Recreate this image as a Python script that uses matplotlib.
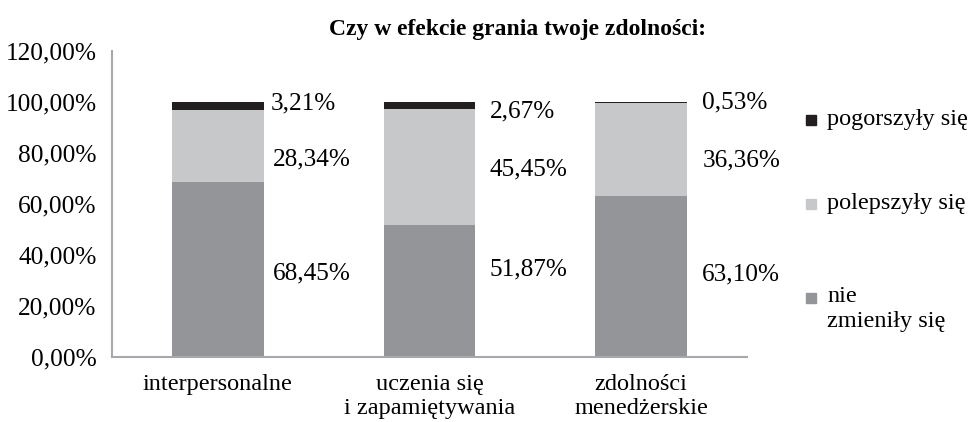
import matplotlib.pyplot as plt
from matplotlib.patches import Rectangle
import numpy as np

plt.rcParams['font.family'] = ['Liberation Serif', 'DejaVu Serif']

categories = ['interpersonalne', 'uczenia się\ni zapamiętywania', 'zdolności\nmenedżerskie']
nie_zmienily = [68.45, 51.87, 63.10]
polepszyly = [28.34, 45.45, 36.36]
pogorszyly = [3.21, 2.67, 0.53]
series_names = ['pogorszyły się', 'polepszyły się', 'nie\nzmieniły się']
yticks = [0, 20, 40, 60, 80, 100, 120]

# label heights (in % units) as placed in the original
lab_y_bottom = [32.9, 34.5, 32.5]
lab_y_mid = [77.3, 73.7, 76.9]
lab_y_top = [99.6, 96.1, 100.0]
lab_dx = [0.045, 0.068, 0.072]

c_bottom = '#939598'
c_mid = '#c7c8ca'
c_top = '#231f20'

fig = plt.figure(figsize=(9.68, 4.22), dpi=100)
ax = fig.add_axes([112/968, 65/422, 635/968, 306/422])

x = np.arange(len(categories))
w = 0.433
b1 = np.array(nie_zmienily)
b2 = b1 + np.array(polepszyly)
ax.bar(x, nie_zmienily, w, color=c_bottom)
ax.bar(x, polepszyly, w, bottom=b1, color=c_mid)
ax.bar(x, pogorszyly, w, bottom=b2, color=c_top)

fs = 17.5
fl = 18.2
fmt = lambda v: f'{v:.2f}%'.replace('.', ',')
for i in range(len(categories)):
    xl = x[i] + w/2 + lab_dx[i]
    ax.text(xl, lab_y_bottom[i], fmt(nie_zmienily[i]), fontsize=fl, va='center', ha='left')
    ax.text(xl, lab_y_mid[i], fmt(polepszyly[i]), fontsize=fl, va='center', ha='left')
    ax.text(xl - (0.01 if i == 0 else 0), lab_y_top[i], fmt(pogorszyly[i]), fontsize=fl, va='center', ha='left')

ax.set_xlim(-0.5, 2.5)
ax.set_ylim(0, 120)
ax.set_yticks(yticks)
ax.set_yticklabels([fmt(v) for v in yticks], fontsize=18.3)
ax.set_xticks(x)
ax.set_xticklabels(categories, fontsize=fs, linespacing=1.2)
ax.tick_params(axis='y', length=0, pad=11)
ax.tick_params(axis='x', length=0, pad=12)
for s in ['top', 'right']:
    ax.spines[s].set_visible(False)
for s in ['left', 'bottom']:
    ax.spines[s].set_color('#a7a9ac')
    ax.spines[s].set_linewidth(1.5)

fig.text(518/968, 1 - 30/422, 'Czy w efekcie grania twoje zdolności:', ha='center', va='center',
         fontsize=17, fontweight='bold')

# legend
leg_colors = [c_top, c_mid, c_bottom]
leg_y = [120, 204, 298]
for name, col, yy in zip(series_names, leg_colors, leg_y):
    fig.patches.append(Rectangle((806/968, 1 - (yy + 5)/422), 10/968, 10/422,
                                 transform=fig.transFigure, color=col, figure=fig))
    if '\n' in name:
        fig.text(827/968, 1 - (yy - 12)/422, name, fontsize=fs, va='top', ha='left', linespacing=1.25)
    else:
        fig.text(827/968, 1 - yy/422, name, fontsize=fs, va='center', ha='left')

fig.savefig('out.png', dpi=100)
